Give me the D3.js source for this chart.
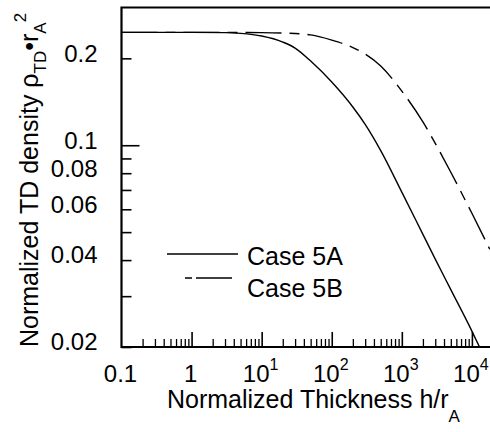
<!DOCTYPE html>
<html>
<head>
<meta charset="utf-8">
<script src="https://cdn.jsdelivr.net/npm/d3@7"></script>
<style>
  body { margin: 0; background: #fff; }
  svg { display: block; font-family: "Liberation Sans", Arial, Helvetica, sans-serif; }
</style>
</head>
<body>
<div id="chart"></div>
<script>
// curve values (h/r_A, normalized TD density)
const case5A_h = [0.1, 1, 3, 5, 10, 20, 30, 50, 100, 200, 300, 500, 1000, 2000, 3000, 5000, 10000, 12820];
const case5A_rho = [0.2461, 0.2461, 0.2456, 0.2440, 0.2389, 0.2277, 0.2171, 0.1957, 0.1656, 0.1357, 0.1181, 0.0958, 0.0688, 0.0491, 0.0403, 0.0316, 0.0227, 0.0200];

const case5B_h = [0.1, 1, 10, 30, 50, 100, 200, 300, 500, 1000, 2000, 3000, 5000, 10000, 18000];
const case5B_rho = [0.2461, 0.2461, 0.2456, 0.2438, 0.2411, 0.2314, 0.2180, 0.2069, 0.1881, 0.1540, 0.1204, 0.1015, 0.0806, 0.0581, 0.0436];

const xMajor = [0.1, 1, 10, 100, 1000, 10000];
const xLabels = [["0.1", ""], ["1", ""], ["10", "1"], ["10", "2"], ["10", "3"], ["10", "4"]];
const yTicks = [0.02, 0.03, 0.04, 0.05, 0.06, 0.07, 0.08, 0.09, 0.1, 0.2];
const yLabels = ["0.02", "", "0.04", "", "0.06", "", "0.08", "", "0.1", "0.2"];
const legendNames = ["Case 5A", "Case 5B"];

const W = 490, H = 432;
const DASH = "36,8,10,8";

var x = d3.scaleLog().domain([0.1, 20000]).range([121.5, 493]);
var y = d3.scaleLog().domain([0.02, 0.3]).range([347, 7.5]);

const svg = d3.select("#chart").append("svg")
    .attr("width", W).attr("height", H);

svg.append("clipPath").attr("id", "plotclip")
  .append("rect")
    .attr("x", x.range()[0]).attr("y", y.range()[1])
    .attr("width", W - x.range()[0]).attr("height", y.range()[0] - y.range()[1]);

// minor x ticks 2..9 in every decade
var xMinor = [];
xMajor.forEach(function (d) {
    for (var k = 2; k <= 9; k++) {
        var v = d * k;
        if (v <= 20000) xMinor.push(v);
    }
});

// x axis: ticks pointing inward
svg.append("g")
    .attr("transform", "translate(0," + y.range()[0] + ")")
    .call(d3.axisBottom(x).tickValues(xMinor).tickSize(-8).tickFormat(""))
    .call(g => g.select(".domain").remove())
    .selectAll("line").attr("stroke-width", 1.3);

var xa = svg.append("g")
    .attr("transform", "translate(0," + y.range()[0] + ")")
    .call(d3.axisBottom(x).tickValues(xMajor.slice(1)).tickSize(-15).tickFormat(""));
xa.select(".domain").remove();
xa.selectAll("line").attr("stroke-width", 1.6);

// x tick labels with superscripts
var xl = svg.append("g").attr("font-size", 24).attr("text-anchor", "middle");
xMajor.forEach(function (d, i) {
    var t = xl.append("text").attr("x", x(d) - 1).attr("y", 382);
    t.append("tspan").text(xLabels[i][0]);
    if (xLabels[i][1]) {
        t.append("tspan").attr("font-size", 16).attr("dy", -12).text(xLabels[i][1]);
    }
});

// y axis: ticks pointing inward
var ya = svg.append("g")
    .attr("transform", "translate(" + x.range()[0] + ",0)")
    .call(d3.axisLeft(y).tickValues(yTicks).tickSize(-10).tickFormat((d, i) => yLabels[i]).tickPadding(24));
ya.select(".domain").remove();
ya.selectAll("line").attr("stroke-width", 1.6)
    .filter(d => d === 0.1).attr("x2", 18);
ya.selectAll("text")
    .attr("font-size", 24)
    .attr("font-family", "inherit")
    .attr("fill", "#000")
    .attr("dy", "0.12em");

// frame: left, bottom, top
svg.append("path")
    .attr("d", d3.line()([[W, y.range()[1]], [x.range()[0], y.range()[1]], [x.range()[0], y.range()[0]], [W, y.range()[0]]]))
    .attr("fill", "none").attr("stroke", "#000").attr("stroke-width", 2.2);

// curves
var line = d3.line()
    .x(d => x(d[0]))
    .y(d => y(d[1]))
    .curve(d3.curveMonotoneX);

var plot = svg.append("g").attr("clip-path", "url(#plotclip)");
plot.append("path")
    .datum(d3.zip(case5A_h, case5A_rho))
    .attr("d", line)
    .attr("fill", "none").attr("stroke", "#000").attr("stroke-width", 1.4);
plot.append("path")
    .datum(d3.zip(case5B_h, case5B_rho))
    .attr("d", line)
    .attr("fill", "none").attr("stroke", "#000").attr("stroke-width", 1.4)
    .attr("stroke-dasharray", DASH);

// legend
var lg = svg.append("g");
lg.append("line").attr("x1", 167).attr("x2", 238).attr("y1", 254).attr("y2", 254)
    .attr("stroke", "#000").attr("stroke-width", 1.4);
lg.append("line").attr("x1", 167).attr("x2", 238).attr("y1", 278).attr("y2", 278)
    .attr("stroke", "#000").attr("stroke-width", 1.4)
    .attr("stroke-dasharray", "0,18,7,4,36,20");
lg.selectAll("text.lab").data(legendNames).enter().append("text")
    .attr("class", "lab")
    .attr("x", 247).attr("y", (d, i) => 265 + i * 32)
    .attr("font-size", 25)
    .text(d => d);

// axis titles
svg.append("text")
    .attr("x", 167).attr("y", 408)
    .attr("font-size", 25)
    .call(t => {
        t.append("tspan").text("Normalized Thickness h/r");
        t.append("tspan").attr("font-size", 17).attr("dy", 14).text("A");
    });

svg.append("text")
    .attr("transform", "translate(38,347) rotate(-90)")
    .attr("font-size", 25)
    .call(t => {
        t.append("tspan").text("Normalized TD density \u03C1");
        t.append("tspan").attr("font-size", 17).attr("dy", 8).text("TD");
        t.append("tspan").attr("dy", -8).text("\u2022");
        t.append("tspan").text("r");
        t.append("tspan").attr("font-size", 17).attr("dy", 8).text("A");
        t.append("tspan").attr("font-size", 17).attr("dy", -20).text("2");
    });
</script>
</body>
</html>
